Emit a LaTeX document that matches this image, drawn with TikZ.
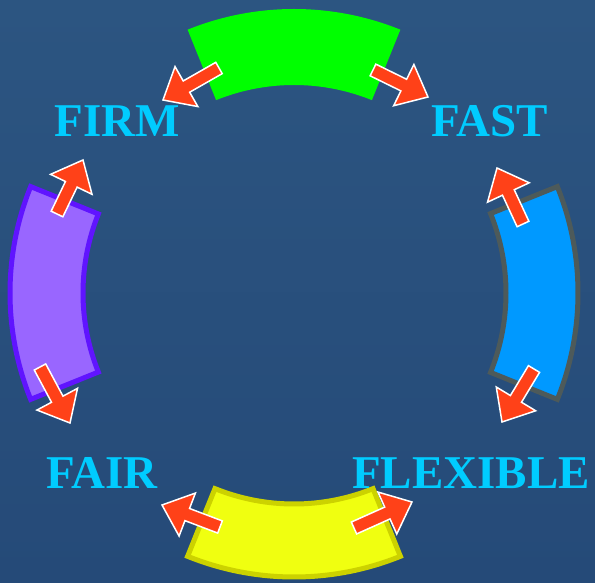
\documentclass[tikz,border=0pt]{standalone}
\usepackage{fontspec}
\setmainfont{Liberation Serif}
\usetikzlibrary{calc}

\definecolor{bgtop}{HTML}{2C5581}
\definecolor{bgbottom}{HTML}{254A78}
\definecolor{firmgreen}{HTML}{00FF00}
\definecolor{fairfill}{HTML}{9966FF}
\definecolor{fairline}{HTML}{6014FF}
\definecolor{fastfill}{HTML}{0099FF}
\definecolor{fastline}{HTML}{4D5A5A}
\definecolor{flexfill}{HTML}{F0FF10}
\definecolor{flexline}{HTML}{CCD200}
\definecolor{arrowred}{HTML}{FF4118}
\definecolor{labelcyan}{HTML}{00CCFF}

\tikzset{
  sector/.style={line width=5pt, line join=miter},
  redarrow/.style={fill=arrowred, draw=white, line width=1.5pt, line join=miter},
  fword/.style={text=labelcyan, font=\fontsize{47}{50}\selectfont\bfseries, anchor=base, inner sep=0pt},
}

% block arrow from tail #1 to tip #2
\newcommand{\blockarrow}[2]{%
  \coordinate (neck) at ($(#2)!27pt!(#1)$);
  \draw[redarrow] ($(#1)!6.5pt!-90:(#2)$) -- ($(neck)!6.5pt!-90:(#2)$)
    -- ($(neck)!23pt!-90:(#2)$) -- (#2) -- ($(neck)!23pt!90:(#2)$)
    -- ($(neck)!6.5pt!90:(#2)$) -- ($(#1)!6.5pt!90:(#2)$) -- cycle;
}

\begin{document}
\begin{tikzpicture}[x=1pt, y=1pt]
  % background
  \shade[top color=bgtop, bottom color=bgbottom] (0,0) rectangle (595,583);
  \useasboundingbox (0,0) rectangle (595,583);
  \coordinate (c) at (294,290);

  % the four sectors
  \begin{scope}[shift={(c)}]
    \fill[firmgreen] (68:284) arc[start angle=68, end angle=112, radius=284]
      -- (112:208) arc[start angle=112, end angle=68, radius=208] -- cycle;
    \draw[sector, fill=fairfill, draw=fairline] (158:284) arc[start angle=158, end angle=202, radius=284]
      -- (202:211) arc[start angle=202, end angle=158, radius=211] -- cycle;
    \draw[sector, fill=fastfill, draw=fastline] (-22:284) arc[start angle=-22, end angle=22, radius=284]
      -- (22:212) arc[start angle=22, end angle=-22, radius=212] -- cycle;
    \draw[sector, fill=flexfill, draw=flexline] (248:284) arc[start angle=248, end angle=292, radius=284]
      -- (292:211) arc[start angle=292, end angle=248, radius=211] -- cycle;
  \end{scope}

  % arrow ends
  \coordinate (gl0) at (219,515); \coordinate (gl1) at (163,483);
  \coordinate (gr0) at (373,513); \coordinate (gr1) at (428,486);
  \coordinate (pt0) at (57,369);  \coordinate (pt1) at (83,423);
  \coordinate (pb0) at (40,216);  \coordinate (pb1) at (70,160);
  \coordinate (bt0) at (523,359); \coordinate (bt1) at (497,415);
  \coordinate (bb0) at (534,214); \coordinate (bb1) at (502,161);
  \coordinate (yl0) at (220,56);  \coordinate (yl1) at (162,78);
  \coordinate (yr0) at (354,55);  \coordinate (yr1) at (412,81);

  \blockarrow{gl0}{gl1}
  \blockarrow{gr0}{gr1}
  \blockarrow{pt0}{pt1}
  \blockarrow{pb0}{pb1}
  \blockarrow{bt0}{bt1}
  \blockarrow{bb0}{bb1}
  \blockarrow{yl0}{yl1}
  \blockarrow{yr0}{yr1}

  % labels
  \node[fword] (firm) at (117,446) {FIRM};
  \node[fword] (fast) at (490,446) {FAST};
  \node[fword] (fair) at (102,94) {FAIR};
  \node[fword] (flexible) at (471,94) {FLEXIBLE};
\end{tikzpicture}
\end{document}
